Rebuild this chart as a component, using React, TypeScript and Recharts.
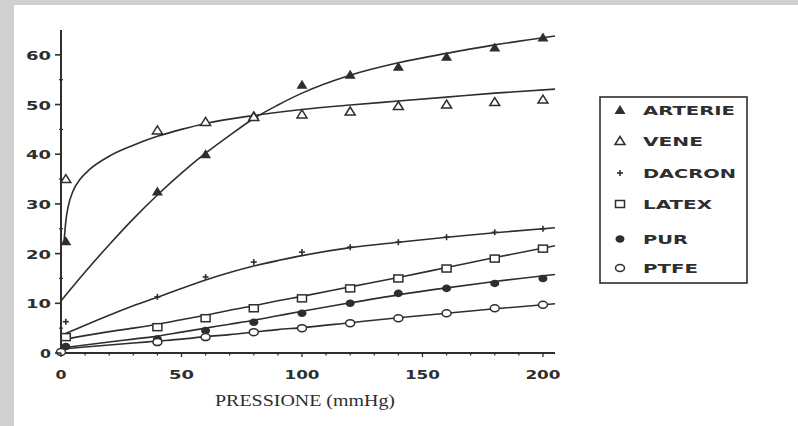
import React from 'react';
import { ComposedChart, Line, Scatter, XAxis, YAxis, Legend } from 'recharts';

// ---- fitted curve data ----
const FIT_X = [0, 10, 20, 30, 40, 50, 60, 70, 80, 90, 100, 120, 140, 160, 180, 205];
const ARTERIE_FIT = [10.5, 16.3, 21.8, 27, 31.8, 36.2, 40.2, 43.8, 47.2, 49.9, 52.3, 55.9, 58.4, 60.3, 62, 63.8];
const VENE_FIT_X = [1.2, 2, 3, 5, 8, 12, 20, 30, 40, 50, 60, 80, 100, 120, 140, 160, 180, 205];
const VENE_FIT = [22, 26.5, 29.5, 32.6, 35, 37, 39.6, 41.8, 43.6, 45, 46.2, 47.8, 49, 49.9, 50.7, 51.5, 52.3, 53.1];
const DACRON_FIT = [3.5, 5.6, 7.6, 9.5, 11.2, 13, 14.7, 16.2, 17.5, 18.6, 19.6, 21.2, 22.3, 23.3, 24.2, 25.2];
const LATEX_FIT = [2.6, 3.5, 4.3, 5, 5.8, 6.7, 7.6, 8.6, 9.5, 10.5, 11.4, 13.3, 15.2, 17.2, 19.2, 21.6];
const PUR_FIT = [1, 1.6, 2.2, 2.8, 3.4, 4.2, 5, 5.8, 6.6, 7.5, 8.4, 10.1, 11.7, 13.1, 14.4, 15.8];
const PTFE_FIT = [0.8, 1.2, 1.6, 2, 2.4, 2.8, 3.3, 3.7, 4.2, 4.7, 5.1, 6.1, 7.1, 8, 8.9, 9.9];

// ---- measured points ----
const PRESS_X = [2, 40, 60, 80, 100, 120, 140, 160, 180, 200];
const PTFE_X = [0, 40, 60, 80, 100, 120, 140, 160, 180, 200];
const ARTERIE_PTS = [22.5, 32.5, 40, 47.8, 54, 56, 57.6, 59.6, 61.5, 63.5];
const VENE_PTS = [35, 44.8, 46.5, 47.5, 48, 48.6, 49.7, 50, 50.5, 51];
const DACRON_PTS = [6.3, 11.3, 15.3, 18.3, 20.3, 21.3, 22.3, 23.3, 24.3, 25];
const LATEX_PTS = [3.2, 5.2, 7, 9, 11, 13, 15, 17, 19, 21];
const PUR_PTS = [1.3, 2.8, 4.5, 6.2, 8, 10, 12, 13, 14, 15];
const PTFE_PTS = [0.2, 2.2, 3.2, 4.2, 5, 6, 7, 8, 9, 9.7];

const SERIES_NAMES = ['ARTERIE', 'VENE', 'DACRON', 'LATEX', 'PUR', 'PTFE'];
const X_TICKS = [0, 10, 20, 30, 40, 50, 60, 70, 80, 90, 100, 110, 120, 130, 140, 150, 160, 170, 180, 190, 200];
const Y_TICKS = [0, 5, 10, 15, 20, 25, 30, 35, 40, 45, 50, 55, 60];

const INK = '#2e2e2e';

const zip = (xs: number[], ys: number[]) => xs.map((x, i) => ({ x, y: ys[i] }));

// ---- marker shapes ----
const FilledTri = ({ cx, cy }: any) => (
  <polygon points={`${cx},${cy - 5} ${cx - 5.5},${cy + 4} ${cx + 5.5},${cy + 4}`} fill={INK} />
);
const OpenTri = ({ cx, cy }: any) => (
  <polygon points={`${cx},${cy - 4.5} ${cx - 5},${cy + 3.5} ${cx + 5},${cy + 3.5}`} fill="#fff" stroke={INK} strokeWidth={1.5} />
);
const PlusMark = ({ cx, cy }: any) => (
  <g stroke={INK} strokeWidth={1.6}>
    <line x1={cx - 3} y1={cy} x2={cx + 3} y2={cy} />
    <line x1={cx} y1={cy - 3} x2={cx} y2={cy + 3} />
  </g>
);
const OpenSq = ({ cx, cy }: any) => (
  <rect x={cx - 4.5} y={cy - 3.5} width={9} height={7} fill="#fff" stroke={INK} strokeWidth={1.5} />
);
const FilledCirc = ({ cx, cy }: any) => <ellipse cx={cx} cy={cy} rx={4.5} ry={3.8} fill={INK} />;
const OpenCirc = ({ cx, cy }: any) => (
  <ellipse cx={cx} cy={cy} rx={4.5} ry={3.5} fill="#fff" stroke={INK} strokeWidth={1.5} />
);

const SHAPES = [FilledTri, OpenTri, PlusMark, OpenSq, FilledCirc, OpenCirc];

const FITS = [
  zip(FIT_X, ARTERIE_FIT),
  zip(VENE_FIT_X, VENE_FIT),
  zip(FIT_X, DACRON_FIT),
  zip(FIT_X, LATEX_FIT),
  zip(FIT_X, PUR_FIT),
  zip(FIT_X, PTFE_FIT),
];
const POINTS = [
  zip(PRESS_X, ARTERIE_PTS),
  zip(PRESS_X, VENE_PTS),
  zip(PRESS_X, DACRON_PTS),
  zip(PRESS_X, LATEX_PTS),
  zip(PRESS_X, PUR_PTS),
  zip(PTFE_X, PTFE_PTS),
];

const labelLen = (s: string) => (s.length === 1 ? 11 : s.length === 2 ? 25 : 35);

const YTick = (props: any) => {
  const { x, y, payload } = props;
  const v = payload.value;
  const major = v % 10 === 0;
  return (
    <g>
      {major ? (
        <line x1={x - 6} y1={y} x2={x} y2={y} stroke={INK} strokeWidth={1.6} />
      ) : (
        <line x1={x - 2} y1={y} x2={x + 2} y2={y} stroke={INK} strokeWidth={1.2} />
      )}
      {major && (
        <text
          x={x - 10}
          y={y + 5}
          textAnchor="end"
          fontFamily="DejaVu Sans, sans-serif"
          fontWeight={700}
          fontSize={13}
          fill={INK}
          textLength={labelLen(String(v))}
          lengthAdjust="spacingAndGlyphs"
        >
          {v}
        </text>
      )}
    </g>
  );
};

const XTick = (props: any) => {
  const { x, y, payload } = props;
  const v = payload.value;
  const major = v % 50 === 0;
  return (
    <g>
      <line x1={x} y1={y} x2={x} y2={y + (major ? 4 : 2.5)} stroke={INK} strokeWidth={1.3} />
      {major && (
        <text
          x={x}
          y={y + 26}
          textAnchor="middle"
          fontFamily="DejaVu Sans, sans-serif"
          fontWeight={700}
          fontSize={13}
          fill={INK}
          textLength={labelLen(String(v))}
          lengthAdjust="spacingAndGlyphs"
        >
          {v}
        </text>
      )}
    </g>
  );
};

const XTitle = (props: any) => {
  const vb = props.viewBox || { x: 61, width: 494, y: 353, height: 50 };
  return (
    <text
      x={vb.x + vb.width / 2 - 3}
      y={406}
      textAnchor="middle"
      fontFamily="Liberation Serif, Times New Roman, serif"
      fontSize={17}
      fill={INK}
      textLength={180}
      lengthAdjust="spacingAndGlyphs"
    >
      PRESSIONE (mmHg)
    </text>
  );
};

const LEGEND_Y = [15, 46, 78, 109, 144, 173];
const LEGEND_LEN = [92, 60, 93, 69, 45, 55];

const LegendBox = () => (
  <svg width={152} height={192}>
    <rect x={2} y={2} width={147} height={186} fill="#fff" stroke={INK} strokeWidth={1.6} />
    {SERIES_NAMES.map((name, i) => {
      const Shape = SHAPES[i];
      return (
        <g key={name}>
          <Shape cx={22} cy={LEGEND_Y[i]} />
          <text
            x={45}
            y={LEGEND_Y[i] + 5}
            fontFamily="DejaVu Sans, sans-serif"
            fontWeight={700}
            fontSize={13}
            fill={INK}
            textLength={LEGEND_LEN[i]}
            lengthAdjust="spacingAndGlyphs"
          >
            {name}
          </text>
        </g>
      );
    })}
  </svg>
);

export default function App() {
  return (
    <div style={{ position: 'absolute', left: 0, top: 0, width: 798, height: 426, background: '#d3d1cf', overflow: 'hidden' }}>
      <div style={{ position: 'absolute', left: 14, top: 5, right: 0, bottom: 0, background: '#fff' }} />
      <div style={{ position: 'absolute', left: 0, top: 0 }}>
        <ComposedChart width={798} height={426} margin={{ top: 30, right: 243, bottom: 23, left: 0 }}>
          <XAxis
            type="number"
            dataKey="x"
            domain={[0, 205]}
            ticks={X_TICKS}
            interval={0}
            height={50}
            tickSize={0}
            tickMargin={0}
            tickLine={false}
            axisLine={{ stroke: INK, strokeWidth: 1.8 }}
            tick={<XTick />}
            label={<XTitle />}
          />
          <YAxis
            type="number"
            dataKey="y"
            domain={[0, 65]}
            ticks={Y_TICKS}
            interval={0}
            width={61}
            tickSize={0}
            tickMargin={0}
            tickLine={false}
            axisLine={{ stroke: INK, strokeWidth: 2 }}
            tick={<YTick />}
          />
          <Legend
            layout="vertical"
            align="center"
            verticalAlign="middle"
            content={() => <LegendBox />}
            wrapperStyle={{ position: 'absolute', left: 598, top: 95, width: 152, height: 192 }}
          />
          {FITS.map((d, i) => (
            <Line
              key={'fit-' + SERIES_NAMES[i]}
              data={d}
              dataKey="y"
              type="monotone"
              stroke={INK}
              strokeWidth={1.6}
              dot={false}
              activeDot={false}
              legendType="none"
              isAnimationActive={false}
            />
          ))}
          {POINTS.map((d, i) => (
            <Scatter
              key={'pts-' + SERIES_NAMES[i]}
              name={SERIES_NAMES[i]}
              data={d}
              dataKey="y"
              fill={INK}
              shape={SHAPES[i]}
              isAnimationActive={false}
            />
          ))}
        </ComposedChart>
      </div>
    </div>
  );
}
